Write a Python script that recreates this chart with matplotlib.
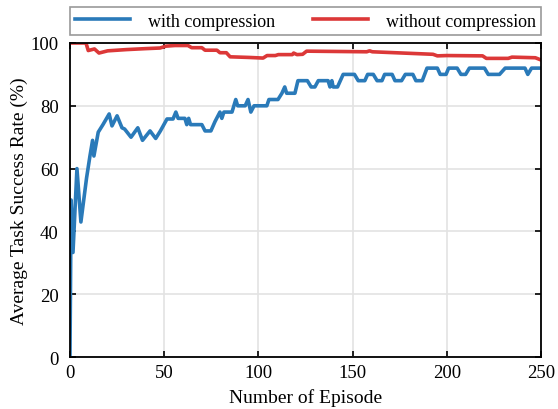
import numpy as np
import matplotlib
matplotlib.use('Agg')
import matplotlib.pyplot as plt

plt.rcParams['font.family'] = ['Liberation Serif', 'DejaVu Serif']
plt.rcParams['font.size'] = 13

# with compression (episode, success rate %)
ep_with = [0, 0.6, 1.6, 3.7, 5.8, 8.8, 10.6, 12, 12.7, 15, 17.5, 20.8, 22.3, 25, 27.6, 29,
           32.4, 36, 38.5, 42.5, 45.5, 48, 51.5, 54.7, 56.2, 57.4, 61, 62, 63, 64, 70, 71.7,
           74.8, 77, 79.6, 80.6, 81.7, 86, 88, 89, 93, 94.5, 96, 97.7, 104.5, 105.6, 110.4,
           112.5, 114, 115, 119.4, 121, 126, 128, 130, 131.8, 137, 138, 139, 139.7, 142, 145,
           151, 153, 156.5, 158, 161, 163, 165.6, 167, 171, 172.5, 176, 178, 182, 183.6, 187,
           189.5, 195, 196.5, 199.6, 201, 205.5, 207.5, 210, 212, 220, 222, 228, 231, 241.5,
           243, 245, 250]
rate_with = [0, 50, 33.3, 60, 43, 57, 64, 69, 64, 71.6, 74, 77.4, 73.6, 76.8, 73, 72.6,
             70, 73, 69, 72, 69.6, 72, 75.8, 75.8, 78, 76, 76, 74, 76, 74, 74, 72,
             72, 75, 78, 76, 78, 78, 82, 80, 80, 82, 78, 80, 80, 82, 82,
             84, 86, 84, 84, 88, 88, 86, 86, 88, 88, 86, 88, 86, 86, 90,
             90, 88, 88, 90, 90, 88, 88, 90, 90, 88, 88, 90, 90, 88, 88,
             92, 92, 90, 90, 92, 92, 90, 90, 92, 92, 90, 90, 92, 92,
             90, 92, 92]

# without compression
ep_without = [0, 8.5, 9.7, 13, 15.4, 20, 30, 40, 47.8, 51, 55.7, 62.6, 64.6, 70, 71.7, 78,
              79.6, 83, 85, 95, 102.5, 104.6, 109, 110.6, 118, 118.7, 120.5, 123.5, 125.6,
              157.5, 159, 160.5, 192.7, 195, 200, 219, 221, 232.6, 234.6, 247, 250]
rate_without = [100, 100, 97.6, 98.1, 96.8, 97.5, 97.9, 98.2, 98.4, 99.0, 99.2, 99.2, 98.5, 98.5,
                97.7, 97.7, 96.9, 96.9, 95.6, 95.4, 95.2, 96, 96, 96.3, 96.3, 96.8, 96.3,
                96.4, 97.4, 97.2, 97.5, 97.2, 96.4, 95.9, 96, 95.9, 95.1, 95.1, 95.5, 95.3, 94.6]

fig = plt.figure(figsize=(5.58, 4.10), dpi=100)
ax = fig.add_axes([0.1254, 0.1268, 0.8441, 0.7659])

ax.plot(ep_with, rate_with, color='#2a7ab9', lw=2.6, label='with compression')
ax.plot(ep_without, rate_without, color='#dc3838', lw=2.6, label='without compression')

ax.set_xlim(0, 250)
ax.set_ylim(0, 100)
ax.set_xticks(np.arange(0, 251, 50))
ax.set_yticks(np.arange(0, 101, 20))
ax.grid(True, color='#e3e3e3', lw=1.2)
ax.set_axisbelow(True)
ax.tick_params(direction='in', top=True, right=True, length=4, width=1.2, labelsize=13.5)
ax.tick_params(axis='x', pad=5)
ax.tick_params(axis='y', pad=8)
for s in ax.spines.values():
    s.set_linewidth(1.3)

ax.set_xlabel('Number of Episode', fontsize=14, labelpad=5)
ax.set_ylabel('Average Task Success Rate (%)', fontsize=14, labelpad=2)

leg = ax.legend(loc='lower left', bbox_to_anchor=(0, 1.025, 1, 0.1), ncol=2, mode='expand',
                fancybox=False, edgecolor='#808080', fontsize=13, handlelength=3.0,
                handletextpad=1.0, borderaxespad=0, borderpad=0.3)
leg.get_frame().set_linewidth(1.2)

plt.savefig('out.png', dpi=100)
